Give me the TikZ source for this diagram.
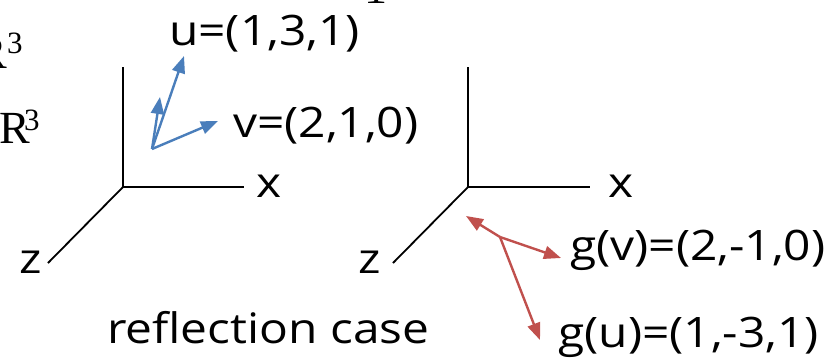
\documentclass[tikz,border=0pt]{standalone}
\usepackage{fontspec}
\setmainfont{Open Sans}
\newfontfamily\lblfont[FakeStretch=1.14]{Open Sans}
\newfontfamily\seriffont{Liberation Serif}
\usetikzlibrary{arrows.meta}
\definecolor{vblue}{HTML}{4A7EBB}
\definecolor{vred}{HTML}{C0504D}
\begin{document}
\begin{tikzpicture}[x=1pt,y=-1pt,
  lbl/.style={font=\lblfont\fontsize{42}{48}\selectfont, inner sep=0pt, anchor=base west},
  ser/.style={font=\seriffont\fontsize{46}{50}\selectfont, inner sep=0pt},
  sup/.style={font=\seriffont\fontsize{31}{34}\selectfont, inner sep=0pt, anchor=base west},
  axis/.style={line width=1.8pt, black},
  bvec/.style={line width=2.4pt, vblue, -{Triangle[length=17pt,width=13pt]}},
  rvec/.style={line width=2.4pt, vred, -{Triangle[length=17pt,width=13pt]}}]
\useasboundingbox (0,0) rectangle (838,360);
% left axes
\coordinate (O1) at (123,187);
\coordinate (Y1) at (123,67);
\coordinate (X1) at (244,187);
\coordinate (Z1) at (48,263);
\draw[axis] (Y1) -- (O1) -- (X1);
\draw[axis] (O1) -- (Z1);
% right axes
\coordinate (O2) at (468,187);
\coordinate (Y2) at (468,67);
\coordinate (X2) at (590,187);
\coordinate (Z2) at (393,263);
\draw[axis] (Y2) -- (O2) -- (X2);
\draw[axis] (O2) -- (Z2);
% blue vectors
\coordinate (B0) at (152,149);
\coordinate (Bu) at (184,56);
\coordinate (Bs) at (160,97);
\coordinate (Bv) at (218,121);
\draw[bvec] (B0) -- (Bu);
\draw[bvec] (B0) -- (Bs);
\draw[bvec] (B0) -- (Bv);
% red vectors
\coordinate (R0) at (500,237);
\coordinate (Rs) at (466,216);
\coordinate (Rv) at (561,258);
\coordinate (Ru) at (540,340);
\draw[rvec] (R0) -- (Rs);
\draw[rvec] (R0) -- (Rv);
\draw[rvec] (R0) -- (Ru);
% labels
\node[lbl] (lu) at (169,45) {u=(1,3,1)};
\node[lbl] (lv) at (233,137) {v=(2,1,0)};
\node[lbl] (lx1) at (256,197) {x};
\node[lbl] (lz1) at (19,273) {z};
\node[lbl] (lx2) at (608,197) {x};
\node[lbl] (lz2) at (358,273) {z};
\node[lbl] (lgv) at (570,260) {g(v)=(2,-1,0)};
\node[lbl] (lgu) at (558,347) {g(u)=(1,-3,1)};
\node[lbl] (lrc) at (107,343) {reflection case};
% serif fragments at left edge
\node[ser, anchor=base east] (r1) at (7,68) {R};
\node[sup] (s1) at (7,53) {3};
\node[ser, anchor=base west] (r2) at (-1,143) {R};
\node[sup] (s2) at (24,130) {3};
\begin{scope}
\clip (360,0) rectangle (392,4);
\node[ser, anchor=base] (frag) at (376,3) {1};
\end{scope}
\end{tikzpicture}
\end{document}
